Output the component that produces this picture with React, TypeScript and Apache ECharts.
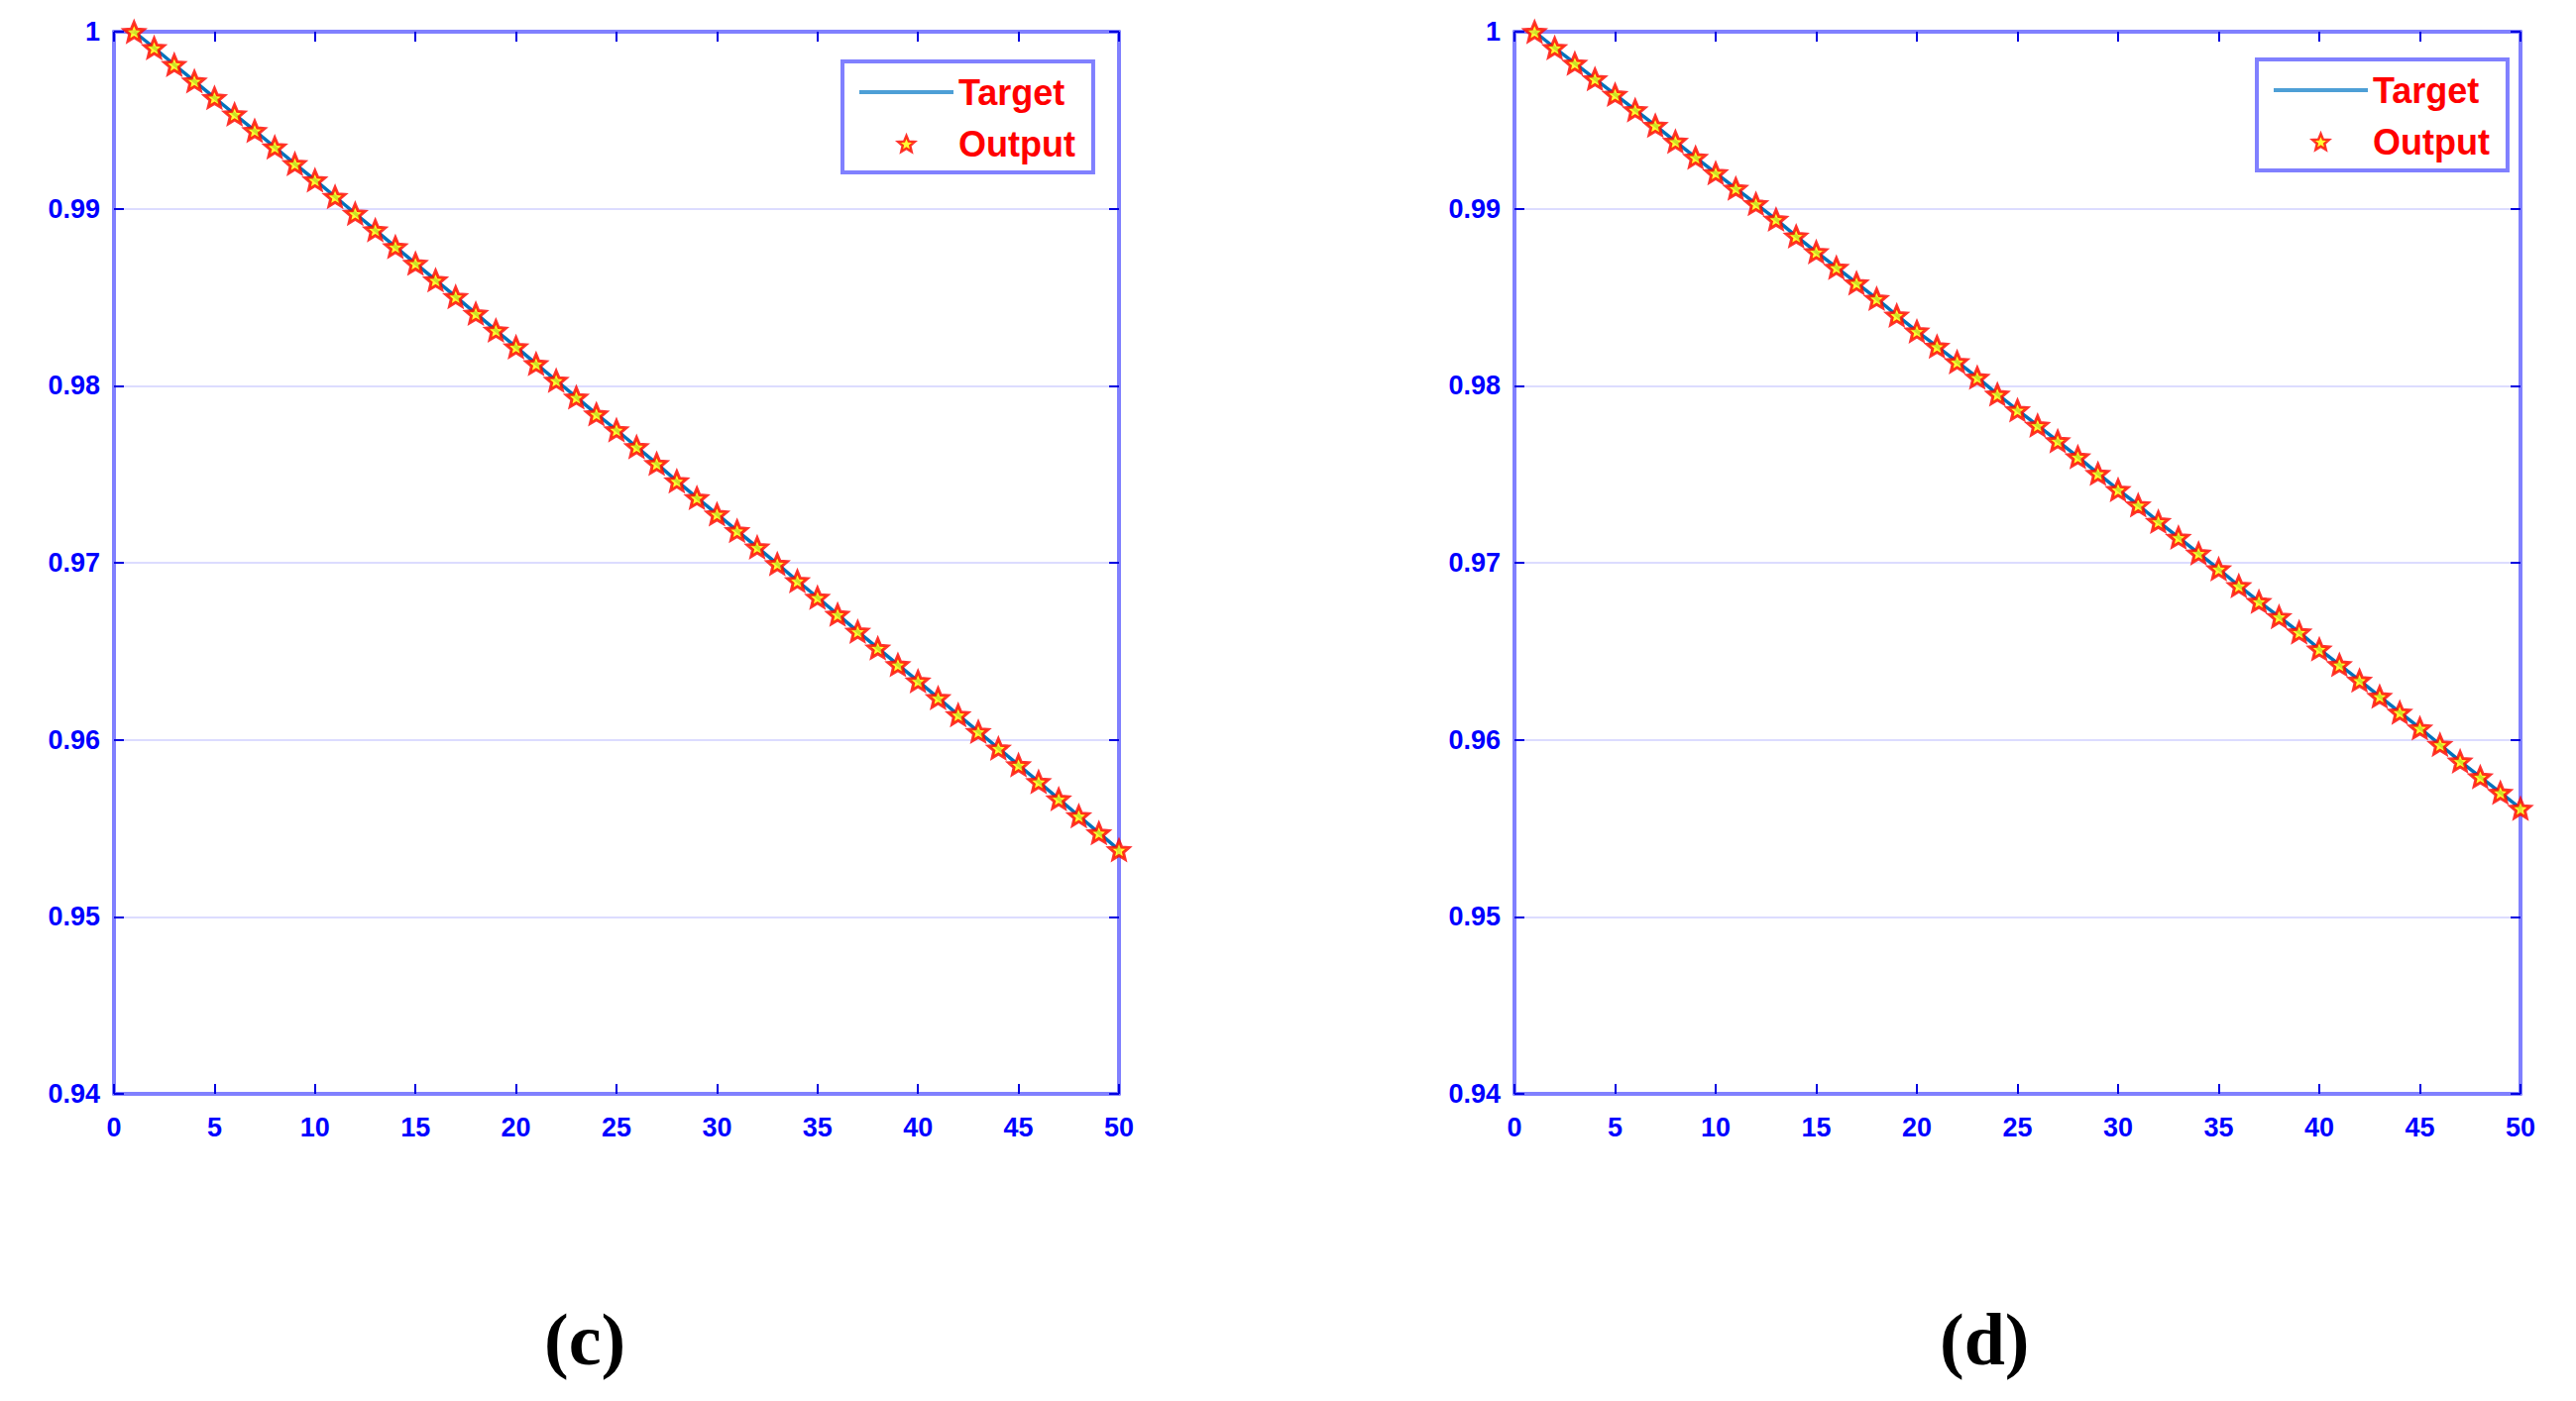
import React, { useEffect, useRef } from "react";
import * as echarts from "echarts";

// x positions (epochs / samples)
const steps: number[] = Array.from({ length: 50 }, (_, i) => i + 1);

// Panel (c) values (Target and Output coincide)
const valuesC: number[] = [
  1.0, 0.99909, 0.99814, 0.99721, 0.99627, 0.99534, 0.99441, 0.99348, 0.99254, 0.99162,
  0.99068, 0.98973, 0.9888, 0.98785, 0.98691, 0.98597, 0.98503, 0.98408, 0.98313, 0.98219,
  0.98124, 0.9803, 0.97935, 0.9784, 0.9775, 0.97655, 0.9756, 0.97462, 0.97367, 0.97275,
  0.97181, 0.97088, 0.96994, 0.96898, 0.96804, 0.96708, 0.96612, 0.96518, 0.96424, 0.96332,
  0.96237, 0.96141, 0.96046, 0.95952, 0.95858, 0.95763, 0.95666, 0.9557, 0.95474, 0.95378,
];

// Panel (d) values
const valuesD: number[] = [
  1.0, 0.99909, 0.99821, 0.99733, 0.99645, 0.99558, 0.9947, 0.9938, 0.9929, 0.99202,
  0.99115, 0.99028, 0.9894, 0.98845, 0.98756, 0.98668, 0.9858, 0.98492, 0.98398, 0.98308,
  0.98222, 0.98135, 0.98047, 0.97952, 0.97863, 0.97776, 0.97688, 0.97598, 0.97504, 0.97413,
  0.97326, 0.97233, 0.97143, 0.97054, 0.96965, 0.9687, 0.96781, 0.96695, 0.96608, 0.96512,
  0.96424, 0.96336, 0.96245, 0.96155, 0.96066, 0.95973, 0.95879, 0.9579, 0.95702, 0.95612,
];

const seriesNames = ["Target", "Output"];
const panelLabels = ["(c)", "(d)"];

const X_MIN = 0;
const X_MAX = 50;
const X_INTERVAL = 5;
const Y_MIN = 0.94;
const Y_MAX = 1;
const Y_INTERVAL = 0.01;

const STAR =
  "path://M100,0 L126.45,63.6 L195.11,69.1 L142.8,113.9 L158.78,180.9 L100,145 L41.22,180.9 L57.2,113.9 L4.89,69.1 L73.55,63.6 Z";
const LINE_ICON = "path://M0,0 L95,0 L95,4 L0,4 Z";

const AXIS_LINE = "#8080ff";
const TICK = "#0000e0";
const LABEL = "#0000ff";
const GRID_LINE = "#dcdcff";
const FONT = "'Liberation Sans', Arial, sans-serif";

function xAxisDef(gridIndex: number, position: "bottom" | "top") {
  return {
    type: "value",
    gridIndex,
    position,
    min: X_MIN,
    max: X_MAX,
    interval: X_INTERVAL,
    axisLine: { show: true, onZero: false, lineStyle: { color: AXIS_LINE, width: 4 } },
    axisTick: { show: true, inside: true, length: 10, lineStyle: { color: TICK, width: 2 } },
    axisLabel: {
      show: position === "bottom",
      color: LABEL,
      fontSize: 27,
      fontWeight: "bold",
      fontFamily: FONT,
      margin: 20,
    },
    splitLine: { show: false },
  };
}

function yAxisDef(gridIndex: number, position: "left" | "right") {
  return {
    type: "value",
    gridIndex,
    position,
    min: Y_MIN,
    max: Y_MAX,
    interval: Y_INTERVAL,
    axisLine: { show: true, onZero: false, lineStyle: { color: AXIS_LINE, width: 4 } },
    axisTick: { show: true, inside: true, length: 10, lineStyle: { color: TICK, width: 2 } },
    axisLabel: {
      show: position === "left",
      color: LABEL,
      fontSize: 27,
      fontWeight: "bold",
      fontFamily: FONT,
      margin: 14,
      padding: [9, 0, 0, 0],
      formatter: (v: number) => {
        const r = Math.round(v * 100) / 100;
        return r === 1 ? "1" : r.toFixed(2);
      },
    },
    splitLine: { show: position === "left", lineStyle: { color: GRID_LINE, width: 2 } },
  };
}

function legendDef(left: number, top: number) {
  return {
    show: true,
    orient: "vertical",
    left,
    top,
    data: [
      { name: seriesNames[0], icon: LINE_ICON, itemStyle: { color: "#4d9fd6", borderWidth: 0 } },
      { name: seriesNames[1], icon: STAR, itemStyle: { color: "#ffff00", borderColor: "#ff0000", borderWidth: 2.5 } },
    ],
    itemWidth: 95,
    itemHeight: 16,
    itemGap: 12,
    padding: [11, 18, 9, 17],
    borderColor: AXIS_LINE,
    borderWidth: 4,
    backgroundColor: "#ffffff",
    selectedMode: false,
    textStyle: {
      color: "#ff0000",
      fontSize: 36,
      fontWeight: "bold",
      fontFamily: FONT,
      lineHeight: 40,
    },
  };
}

function panelSeries(values: number[], axisIndex: number) {
  const pts = steps.map((x, i) => [x, values[i]]);
  return [
    {
      name: seriesNames[0],
      type: "line",
      xAxisIndex: axisIndex,
      yAxisIndex: axisIndex,
      data: pts,
      symbol: "none",
      lineStyle: { color: "#0072bd", width: 3.5 },
      itemStyle: { color: "#0072bd" },
      z: 2,
    },
    {
      name: seriesNames[1],
      type: "scatter",
      xAxisIndex: axisIndex,
      yAxisIndex: axisIndex,
      data: pts,
      symbol: STAR,
      symbolSize: 20,
      symbolKeepAspect: true,
      clip: false,
      itemStyle: { color: "#ffff00", borderColor: "#ff0000", borderWidth: 3 },
      z: 3,
    },
  ];
}

export default function App() {
  const ref = useRef<HTMLDivElement>(null);

  useEffect(() => {
    if (!ref.current) return;
    const chart = echarts.init(ref.current, undefined, { renderer: "svg" });
    chart.setOption({
      animation: false,
      backgroundColor: "#ffffff",
      grid: [
        { left: 115, top: 32, width: 1014, height: 1072 },
        { left: 1528, top: 32, width: 1015, height: 1072 },
      ],
      xAxis: [
        xAxisDef(0, "bottom"),
        xAxisDef(0, "top"),
        xAxisDef(1, "bottom"),
        xAxisDef(1, "top"),
      ],
      yAxis: [
        yAxisDef(0, "left"),
        yAxisDef(0, "right"),
        yAxisDef(1, "left"),
        yAxisDef(1, "right"),
      ],
      legend: [legendDef(850, 62), legendDef(2277, 60)],
      series: [...panelSeries(valuesC, 0), ...panelSeries(valuesD, 2)],
      graphic: [
        {
          type: "text",
          left: 589 - 40,
          top: 1315,
          style: {
            text: panelLabels[0],
            fill: "#000000",
            font: "bold 74px 'Liberation Serif', 'Times New Roman', serif",
          },
        },
        {
          type: "text",
          left: 2002 - 45,
          top: 1315,
          style: {
            text: panelLabels[1],
            fill: "#000000",
            font: "bold 74px 'Liberation Serif', 'Times New Roman', serif",
          },
        },
      ],
    });
    return () => chart.dispose();
  }, []);

  return (
    <div
      ref={ref}
      style={{ position: "absolute", left: 0, top: 0, width: 2599, height: 1414, background: "#fff" }}
    />
  );
}
